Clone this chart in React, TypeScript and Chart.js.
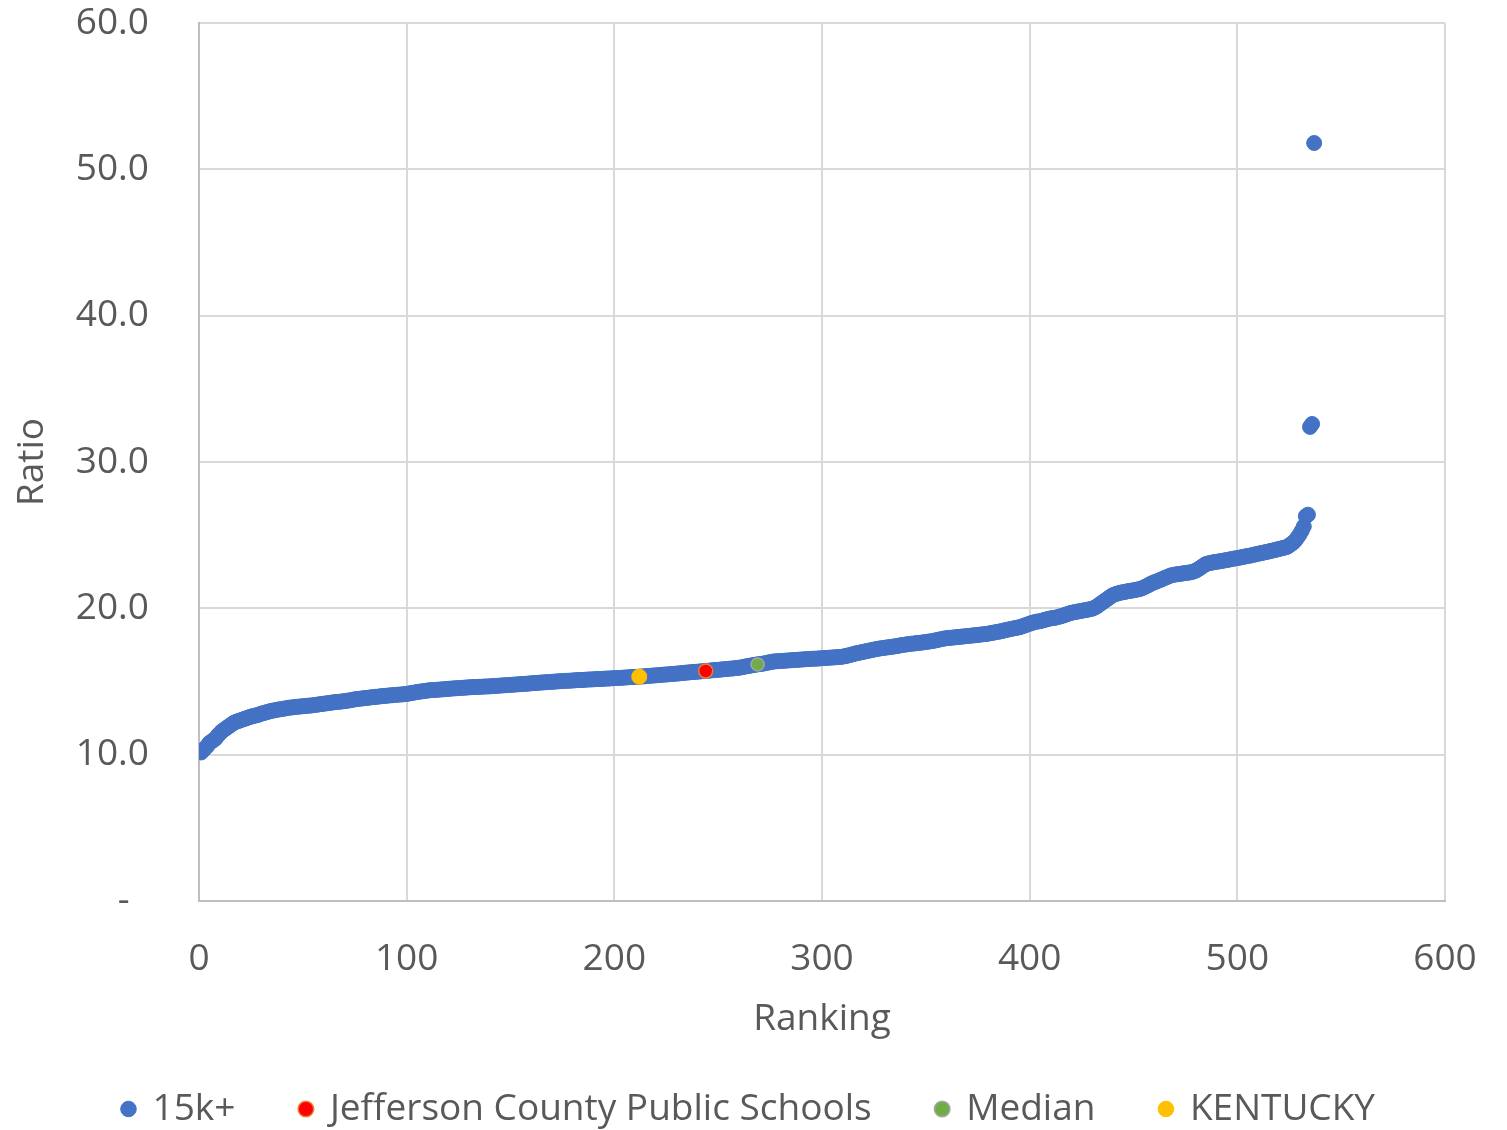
import React, { useEffect, useRef } from "react";
import { Chart, registerables } from "chart.js";

Chart.register(...registerables);

// Ratio of each district, sorted ascending (ranking 1..537)
const ratioValues: number[] = [
  10.15, 10.3, 10.45, 10.6, 10.8, 10.9, 11.0, 11.1, 11.3, 11.45,
  11.6, 11.7, 11.8, 11.9, 12.0, 12.1, 12.2, 12.25, 12.3, 12.35,
  12.4, 12.45, 12.5, 12.55, 12.6, 12.63, 12.67, 12.7, 12.75, 12.8,
  12.84, 12.88, 12.92, 12.96, 13.0, 13.02, 13.05, 13.08, 13.1, 13.12,
  13.15, 13.17, 13.2, 13.22, 13.23, 13.25, 13.27, 13.28, 13.3, 13.31,
  13.32, 13.34, 13.35, 13.36, 13.38, 13.4, 13.42, 13.44, 13.46, 13.48,
  13.5, 13.52, 13.54, 13.56, 13.58, 13.6, 13.61, 13.62, 13.64, 13.66,
  13.68, 13.7, 13.72, 13.75, 13.78, 13.8, 13.82, 13.83, 13.85, 13.87,
  13.88, 13.9, 13.92, 13.93, 13.95, 13.96, 13.98, 14.0, 14.01, 14.02,
  14.04, 14.05, 14.06, 14.08, 14.09, 14.1, 14.11, 14.12, 14.14, 14.15,
  14.18, 14.2, 14.23, 14.25, 14.28, 14.3, 14.32, 14.34, 14.36, 14.38,
  14.4, 14.41, 14.42, 14.43, 14.44, 14.45, 14.46, 14.47, 14.48, 14.5,
  14.51, 14.52, 14.53, 14.54, 14.55, 14.56, 14.57, 14.58, 14.59, 14.6,
  14.61, 14.62, 14.62, 14.63, 14.64, 14.64, 14.65, 14.66, 14.66, 14.67,
  14.68, 14.69, 14.7, 14.71, 14.72, 14.73, 14.74, 14.75, 14.76, 14.77,
  14.78, 14.79, 14.8, 14.81, 14.82, 14.83, 14.84, 14.85, 14.86, 14.88,
  14.89, 14.9, 14.91, 14.92, 14.93, 14.94, 14.95, 14.96, 14.97, 14.98,
  14.99, 15.0, 15.01, 15.02, 15.03, 15.04, 15.05, 15.05, 15.06, 15.07,
  15.08, 15.09, 15.1, 15.1, 15.11, 15.12, 15.13, 15.14, 15.14, 15.15,
  15.16, 15.17, 15.17, 15.18, 15.19, 15.2, 15.2, 15.21, 15.22, 15.23,
  15.24, 15.24, 15.25, 15.26, 15.27, 15.28, 15.29, 15.3, 15.31, 15.32,
  15.32, 15.33, 15.34, 15.35, 15.36, 15.38, 15.39, 15.4, 15.41, 15.42,
  15.43, 15.44, 15.46, 15.47, 15.48, 15.49, 15.5, 15.51, 15.53, 15.54,
  15.55, 15.57, 15.58, 15.6, 15.61, 15.62, 15.64, 15.65, 15.66, 15.67,
  15.68, 15.7, 15.71, 15.72, 15.73, 15.75, 15.76, 15.78, 15.79, 15.8,
  15.81, 15.83, 15.84, 15.85, 15.87, 15.88, 15.89, 15.91, 15.92, 15.94,
  15.96, 15.99, 16.02, 16.05, 16.07, 16.1, 16.12, 16.15, 16.17, 16.19,
  16.21, 16.23, 16.26, 16.29, 16.32, 16.35, 16.37, 16.38, 16.39, 16.4,
  16.41, 16.42, 16.43, 16.44, 16.45, 16.46, 16.47, 16.48, 16.49, 16.5,
  16.51, 16.52, 16.53, 16.54, 16.55, 16.56, 16.56, 16.57, 16.58, 16.59,
  16.6, 16.61, 16.62, 16.63, 16.64, 16.65, 16.66, 16.67, 16.68, 16.7,
  16.73, 16.76, 16.79, 16.83, 16.87, 16.91, 16.94, 16.97, 17.0, 17.03,
  17.06, 17.09, 17.12, 17.15, 17.18, 17.21, 17.24, 17.26, 17.28, 17.3,
  17.32, 17.34, 17.36, 17.38, 17.4, 17.42, 17.45, 17.48, 17.5, 17.52,
  17.54, 17.56, 17.58, 17.59, 17.61, 17.63, 17.64, 17.66, 17.68, 17.7,
  17.72, 17.74, 17.76, 17.79, 17.82, 17.85, 17.88, 17.91, 17.94, 17.96,
  17.98, 17.99, 18.0, 18.02, 18.03, 18.05, 18.06, 18.08, 18.09, 18.11,
  18.12, 18.14, 18.15, 18.17, 18.18, 18.2, 18.22, 18.23, 18.25, 18.27,
  18.3, 18.32, 18.35, 18.38, 18.4, 18.43, 18.46, 18.5, 18.53, 18.56,
  18.59, 18.62, 18.65, 18.68, 18.7, 18.75, 18.8, 18.85, 18.9, 18.95,
  19.0, 19.04, 19.08, 19.1, 19.12, 19.16, 19.2, 19.24, 19.28, 19.31,
  19.33, 19.35, 19.38, 19.42, 19.46, 19.5, 19.55, 19.6, 19.65, 19.69,
  19.72, 19.75, 19.78, 19.8, 19.83, 19.86, 19.88, 19.91, 19.94, 19.97,
  20.03, 20.1, 20.2, 20.3, 20.4, 20.5, 20.6, 20.7, 20.8, 20.9,
  20.95, 21.0, 21.04, 21.08, 21.1, 21.13, 21.16, 21.19, 21.21, 21.23,
  21.26, 21.29, 21.32, 21.37, 21.43, 21.5, 21.57, 21.65, 21.72, 21.78,
  21.83, 21.89, 21.95, 22.01, 22.07, 22.13, 22.19, 22.25, 22.28, 22.31,
  22.33, 22.35, 22.37, 22.39, 22.41, 22.43, 22.45, 22.48, 22.52, 22.58,
  22.66, 22.75, 22.85, 22.95, 23.03, 23.07, 23.1, 23.13, 23.16, 23.18,
  23.2, 23.23, 23.25, 23.28, 23.3, 23.33, 23.36, 23.39, 23.41, 23.44,
  23.46, 23.49, 23.52, 23.55, 23.58, 23.6, 23.63, 23.66, 23.7, 23.73,
  23.76, 23.79, 23.82, 23.85, 23.88, 23.92, 23.95, 23.98, 24.02, 24.05,
  24.09, 24.12, 24.16, 24.2, 24.3, 24.4, 24.5, 24.65, 24.85, 25.05,
  25.3, 25.6, 26.3, 26.4, 32.4, 32.6, 51.8,
];

// Rankings (1..N) for the sorted ratios
const rankings: number[] = ratioValues.map((_, i) => i + 1);

// Highlighted points
const jeffersonRanking = [244];
const jeffersonRatio = [15.72];
const medianRanking = [269];
const medianRatio = [16.17];
const kentuckyRanking = [212];
const kentuckyRatio = [15.33];

const seriesLabels = ["15k+", "Jefferson County Public Schools", "Median", "KENTUCKY"];

const xTickStep = 100;
const yTickStep = 10;

const FONT = "'Open Sans', 'Noto Sans', sans-serif";
const TEXT = "#595959";

function toPoints(xs: number[], ys: number[]) {
  return xs.map((x, i) => ({ x, y: ys[i] }));
}

export default function App() {
  const ref = useRef<HTMLCanvasElement | null>(null);

  useEffect(() => {
    if (!ref.current) return;
    const font = { family: FONT, size: 37 };
    const chart = new Chart(ref.current, {
      type: "scatter",
      data: {
        datasets: [
          {
            label: seriesLabels[0],
            data: toPoints(rankings, ratioValues),
            backgroundColor: "#4472C4",
            borderColor: "#4472C4",
            pointRadius: 7.5,
            pointBorderWidth: 1,
            order: 1,
          },
          {
            label: seriesLabels[1],
            data: toPoints(jeffersonRanking, jeffersonRatio),
            backgroundColor: "#FF0000",
            borderColor: "#ED7D31",
            pointRadius: 7,
            pointBorderWidth: 1.5,
            order: 0,
          },
          {
            label: seriesLabels[2],
            data: toPoints(medianRanking, medianRatio),
            backgroundColor: "#70AD47",
            borderColor: "#A5A5A5",
            pointRadius: 6.5,
            pointBorderWidth: 1.5,
            order: 0,
          },
          {
            label: seriesLabels[3],
            data: toPoints(kentuckyRanking, kentuckyRatio),
            backgroundColor: "#FFC000",
            borderColor: "#FFC000",
            pointRadius: 7.5,
            pointBorderWidth: 1,
            order: 0,
          },
        ],
      },
      options: {
        animation: false,
        responsive: false,
        layout: { padding: { left: 0, top: 23, right: 9, bottom: -7.5 } },
        plugins: {
          legend: {
            position: "bottom",
            labels: {
              usePointStyle: true,
              pointStyle: "circle",
              boxWidth: 11,
              boxHeight: 11,
              padding: 65,
              color: TEXT,
              font,
              sort: (a: any, b: any) => a.datasetIndex - b.datasetIndex,
            },
          },
          tooltip: { enabled: false },
        },
        scales: {
          x: {
            type: "linear",
            min: 0,
            max: 600,
            ticks: { stepSize: xTickStep, padding: 36, color: TEXT, font },
            grid: { color: "#d9d9d9", lineWidth: 2, drawTicks: false },
            border: { color: "#bfbfbf", width: 2 },
            title: {
              display: true,
              text: "Ranking",
              color: TEXT,
              font,
              padding: { top: 17, bottom: -15.7 },
            },
            afterFit: (s: any) => {
              s.height = 124.5;
              s.paddingLeft = 0;
              s.paddingRight = 62;
            },
          },
          y: {
            type: "linear",
            min: 0,
            max: 60,
            ticks: {
              stepSize: yTickStep,
              padding: 50,
              color: TEXT,
              font,
              callback: (v: any) => (Number(v) === 0 ? "-  " : Number(v).toFixed(1)),
            },
            grid: { color: "#d9d9d9", lineWidth: 2, drawTicks: false },
            border: { color: "#bfbfbf", width: 2 },
            title: {
              display: true,
              text: "Ratio",
              color: TEXT,
              font,
              padding: { top: 10.3, bottom: 0 },
            },
            afterFit: (s: any) => {
              s.width = 199;
              s.paddingTop = 0;
              s.paddingBottom = 0;
            },
          },
        },
      } as any,
    });
    return () => chart.destroy();
  }, []);

  return (
    <div style={{ position: "fixed", left: 0, top: 0, width: 1507, height: 1130, background: "#fff" }}>
      <canvas ref={ref} width={1507} height={1130} style={{ display: "block" }} />
    </div>
  );
}
